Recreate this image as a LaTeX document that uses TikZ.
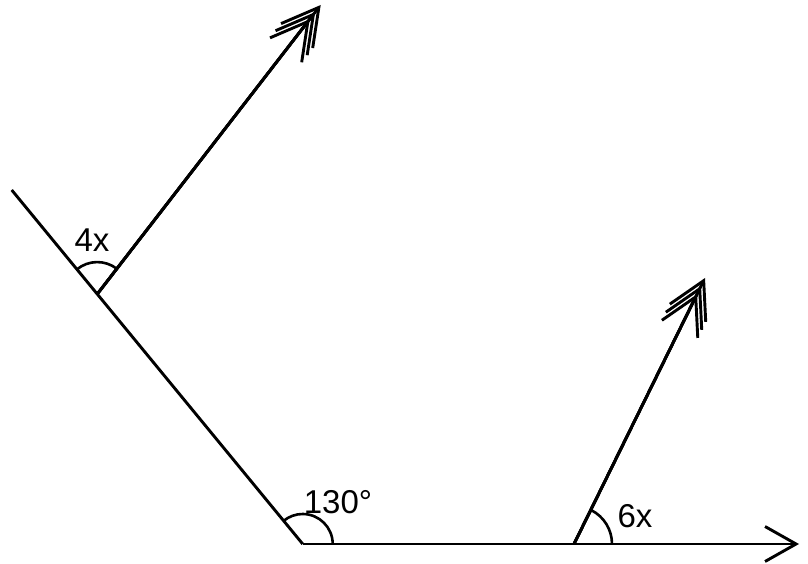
\documentclass[tikz,border=0pt]{standalone}
\usepackage{fontspec}
\setmainfont{Liberation Sans}
\usepackage{tikz}
\usetikzlibrary{arrows.meta,calc}

\begin{document}
\begin{tikzpicture}[
    x=1pt, y=1pt,
    line/.style={line width=2.9pt},
    ray/.style={line width=2.9pt, -{Straight Barb[length=36pt,width=40pt]}},
    axis/.style={line width=2.9pt, -{Straight Barb[length=31pt,width=35pt]}},
    anglemark/.style={line width=2.6pt},
    lbl/.style={inner sep=0pt, font=\fontsize{33}{36}\selectfont},
]
    \useasboundingbox (0,0) rectangle (808,564);

    % Points
    \coordinate (top)   at (11.7,374);
    \coordinate (vert)  at (302.7,20);
    \coordinate (axend) at (799,20);
    \coordinate (foot)  at ($(vert)!0.706!(top)$);
    \coordinate (tipA)  at (320.7,559);
    \coordinate (base)  at (574,20);
    \coordinate (tipB)  at (705,286);

    % Lines
    \draw[line] (top) -- (vert);
    \draw[axis] (vert) -- (axend);
    \foreach \s in {0,9,18} {
        \draw[ray, shorten >=\s pt] (foot) -- (tipA);
        \draw[ray, shorten >=\s pt] (base) -- (tipB);
    }

    % Angle marks
    \draw[anglemark] ([shift={(0:30)}]vert) arc[start angle=0, end angle=129.4, radius=30];
    \draw[anglemark] ([shift={(52.3:32)}]foot) arc[start angle=52.3, end angle=129.4, radius=32];
    \draw[anglemark] ([shift={(0:38)}]base) arc[start angle=0, end angle=62.8, radius=38];

    % Labels
    \node[lbl] (l4x)  at (92,324) {4x};
    \node[lbl] (l130) at (338,62) {130°};
    \node[lbl] (l6x)  at (635,48) {6x};
\end{tikzpicture}
\end{document}
